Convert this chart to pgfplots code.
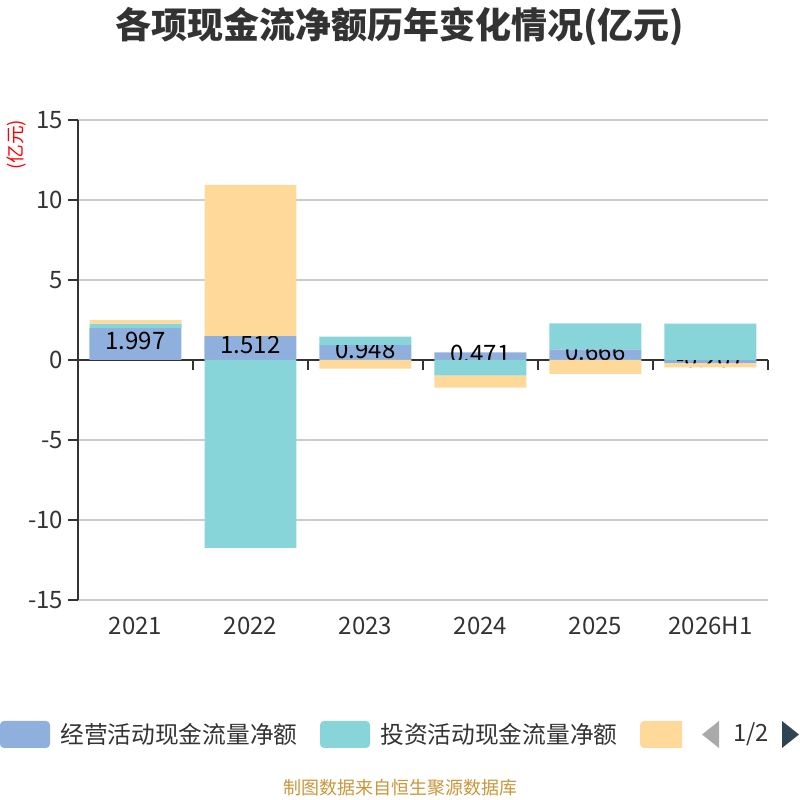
\documentclass[border=0pt]{standalone}
\usepackage{pgfplots}
\pgfplotsset{compat=1.18}
\usepackage{fontspec}
\setmainfont{Noto Sans CJK SC}
\definecolor{cblue}{HTML}{8FB0DC}
\definecolor{cteal}{HTML}{87D5D8}
\definecolor{cyel}{HTML}{FFD999}
\definecolor{ctxt}{HTML}{333333}
\definecolor{cgrid}{HTML}{CCCCCC}
\definecolor{cfoot}{HTML}{C9963A}
\definecolor{carrow}{HTML}{2F4554}
\definecolor{cgray}{HTML}{AAAAAA}
\pgfplotstableread{
x blue teal yel
0 1.997 0.28 0.22
1 1.512 -11.75 9.43
2 0.948 0.51 -0.54
3 0.471 -0.98 -0.75
4 0.666 1.62 -0.86
5 -0.207 2.27 -0.25
}\cashdata
\pgfplotsset{
 chartgeom/.style={
  at={(58.5pt,150pt)}, anchor=south west,
  width=517.5pt, height=360pt, scale only axis,
  xmin=-0.5, xmax=5.5, ymin=-15, ymax=15,
  ybar stacked, reverse stacked plots=false, bar width=0.8,
  clip=false,
 }
}
\begin{document}
\begin{tikzpicture}[x=0.75pt,y=0.75pt]
\path[use as bounding box] (0,0) rectangle (800,800);
\begin{axis}[
 chartgeom,
 axis x line*=bottom, axis y line*=left,
 x axis line style={draw=none},
 y axis line style={draw=ctxt, line width=1.5pt},
 xtick={0,...,5}, xticklabels={2021,2022,2023,2024,2025,2026H1},
 x tick style={draw=none},
 x tick label style={yshift=-1.5pt},
 ytick={-15,-10,...,15}, yticklabels={-15,-10,-5,0,5,10,15},
 y tick style={draw=ctxt, line width=1.5pt},
 tick align=outside, major tick length=7.5pt,
 ymajorgrids, grid style={draw=cgrid, line width=1.2pt},
 extra y ticks={0}, extra y tick labels={},
 extra y tick style={grid style={draw=ctxt, line width=1.5pt}, tick style={draw=none}},
 ticklabel style={font=\fontsize{18pt}{18pt}\selectfont, text=ctxt},
]
\addplot[fill=cblue, draw=none, nodes near coords, point meta=y,
  nodes near coords align={center},
  every node near coord/.append style={anchor=center, font=\fontsize{18pt}{18pt}\selectfont, text=black, yshift=2pt},
  /pgf/number format/.cd, fixed, precision=3, assume math mode=true]
  table[x=x, y=blue] {\cashdata};
\draw[ctxt, line width=1.5pt] (axis cs:0.5,0) -- ([yshift=-7.5pt]axis cs:0.5,0);
\draw[ctxt, line width=1.5pt] (axis cs:1.5,0) -- ([yshift=-7.5pt]axis cs:1.5,0);
\draw[ctxt, line width=1.5pt] (axis cs:2.5,0) -- ([yshift=-7.5pt]axis cs:2.5,0);
\draw[ctxt, line width=1.5pt] (axis cs:3.5,0) -- ([yshift=-7.5pt]axis cs:3.5,0);
\draw[ctxt, line width=1.5pt] (axis cs:4.5,0) -- ([yshift=-7.5pt]axis cs:4.5,0);
\draw[ctxt, line width=1.5pt] (axis cs:5.5,0) -- ([yshift=-7.5pt]axis cs:5.5,0);
\end{axis}
\begin{axis}[chartgeom, hide axis]
\addplot[fill=none, draw=none] table[x=x, y=blue] {\cashdata};
\addplot[fill=cteal, draw=none] table[x=x, y=teal] {\cashdata};
\addplot[fill=cyel, draw=none] table[x=x, y=yel] {\cashdata};
\end{axis}
\node[font=\fontsize{27pt}{27pt}\selectfont\bfseries, text=ctxt] at (400,773) {各项现金流净额历年变化情况(亿元)};
\node[rotate=90, text=red, font=\fontsize{14pt}{14pt}\selectfont] at (17,655) {(亿元)};
% legend
\fill[cblue, rounded corners=3pt] (0,52) rectangle (50,79);
\node[anchor=west, text=ctxt, font=\fontsize{17.8pt}{17.8pt}\selectfont, inner sep=0pt] at (60,65.5) {经营活动现金流量净额};
\fill[cteal, rounded corners=3pt] (320,52) rectangle (370,79);
\node[anchor=west, text=ctxt, font=\fontsize{17.8pt}{17.8pt}\selectfont, inner sep=0pt] at (380,65.5) {投资活动现金流量净额};
\begin{scope}
\clip (640,40) rectangle (682,90);
\fill[cyel, rounded corners=3pt] (640,52) rectangle (700,79);
\end{scope}
\fill[cgray] (702,65.5) -- (719,79) -- (719,52) -- cycle;
\node[text=ctxt, font=\fontsize{17.8pt}{17.8pt}\selectfont, inner sep=0pt] at (751,65.5) {1/2};
\fill[carrow] (782,79) -- (799,65.5) -- (782,52) -- cycle;
\node[text=cfoot, font=\fontsize{13.5pt}{13.5pt}\selectfont] at (400,12) {制图数据来自恒生聚源数据库};
\end{tikzpicture}
\end{document}
